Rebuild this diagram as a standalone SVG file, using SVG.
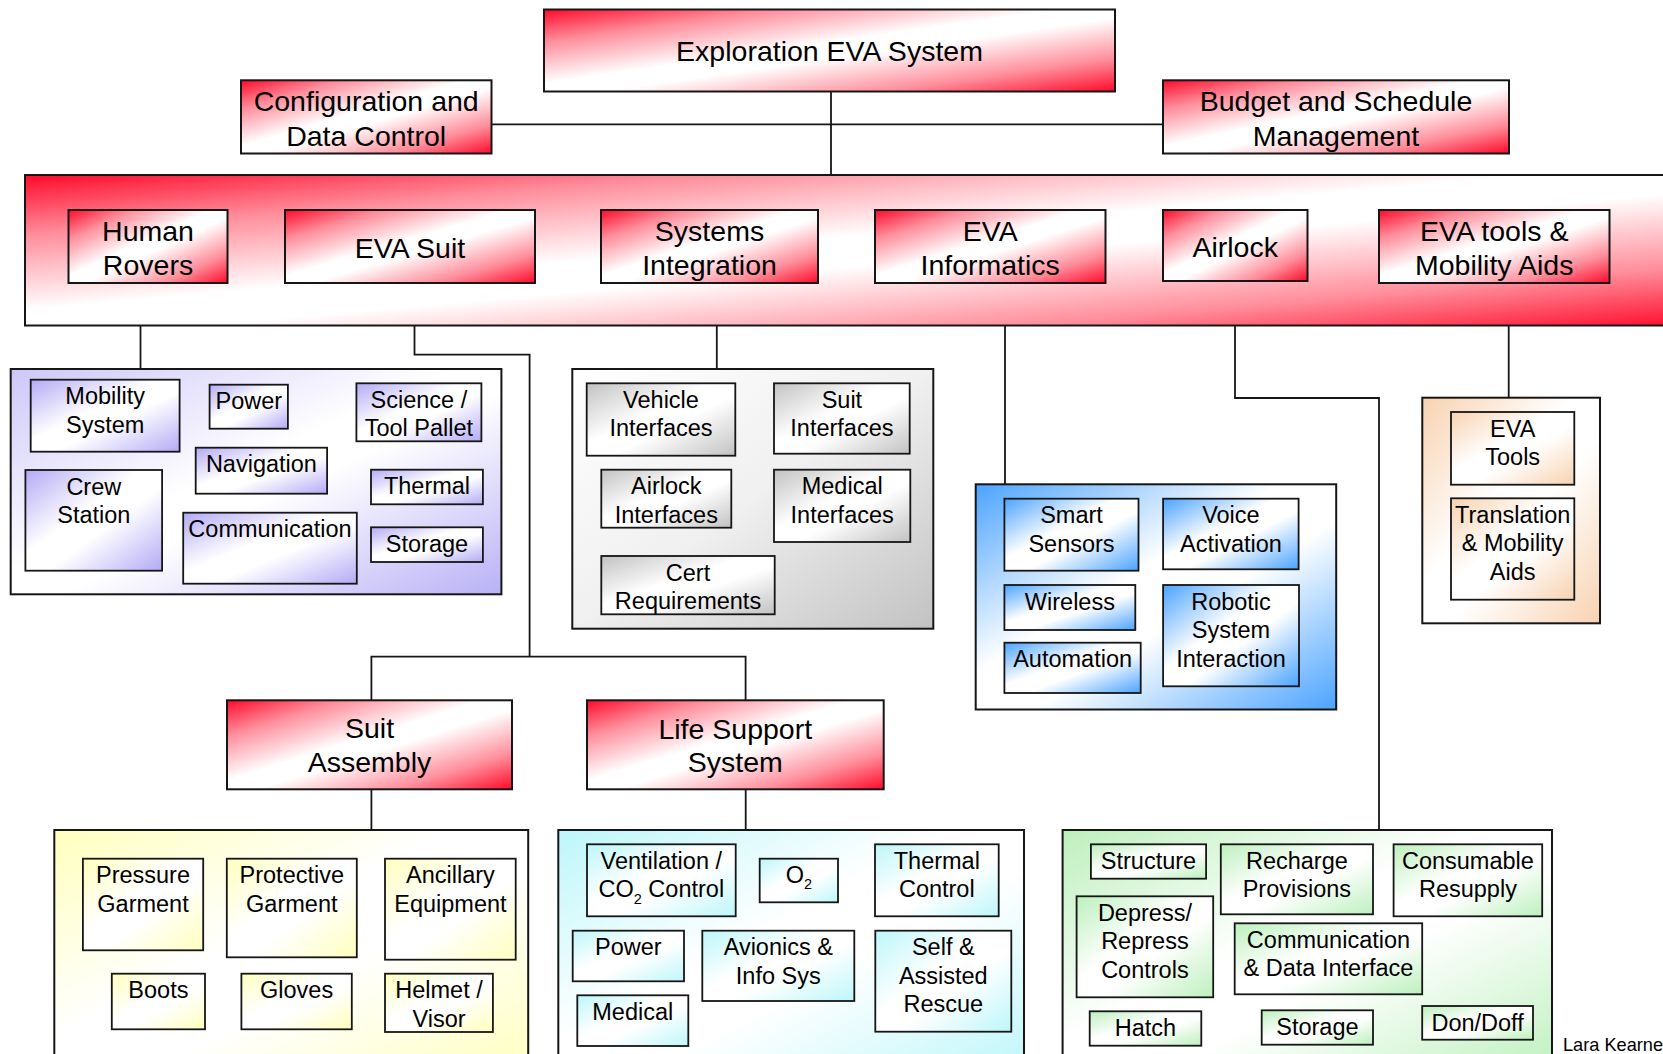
<svg xmlns="http://www.w3.org/2000/svg" width="1663" height="1054" viewBox="0 0 1663 1054">
  <defs>
    <!-- diagonal, mirrored fills: colour in two opposite corners, white through the middle -->
    <linearGradient id="gRed" x1="0" y1="0" x2="1" y2="1">
      <stop offset="0" stop-color="#ff0a2a"/>
      <stop offset="0.2" stop-color="#ff8d9b"/>
      <stop offset="0.45" stop-color="#ffffff"/>
      <stop offset="0.55" stop-color="#ffffff"/>
      <stop offset="0.8" stop-color="#ff8d9b"/>
      <stop offset="1" stop-color="#ff0a2a"/>
    </linearGradient>
    <linearGradient id="gPurple" x1="0" y1="0" x2="1" y2="1">
      <stop offset="0" stop-color="#b3aaf5"/>
      <stop offset="0.42" stop-color="#ffffff"/>
      <stop offset="0.58" stop-color="#ffffff"/>
      <stop offset="1" stop-color="#b3aaf5"/>
    </linearGradient>
    <linearGradient id="gPurpleBg" x1="0" y1="0" x2="1" y2="1">
      <stop offset="0" stop-color="#cdc7f8"/>
      <stop offset="0.45" stop-color="#ffffff"/>
      <stop offset="0.55" stop-color="#ffffff"/>
      <stop offset="1" stop-color="#b9b1f6"/>
    </linearGradient>
    <linearGradient id="gGray" x1="0" y1="0" x2="1" y2="1">
      <stop offset="0" stop-color="#c2c2c2"/>
      <stop offset="0.42" stop-color="#ffffff"/>
      <stop offset="0.58" stop-color="#ffffff"/>
      <stop offset="1" stop-color="#c2c2c2"/>
    </linearGradient>
    <linearGradient id="gGrayBg" x1="0" y1="0" x2="1" y2="1">
      <stop offset="0" stop-color="#ffffff"/>
      <stop offset="0.5" stop-color="#f0f0f0"/>
      <stop offset="1" stop-color="#c2c2c2"/>
    </linearGradient>
    <linearGradient id="gBlue" x1="0" y1="0" x2="1" y2="1">
      <stop offset="0" stop-color="#4ba3ff"/>
      <stop offset="0.42" stop-color="#ffffff"/>
      <stop offset="0.58" stop-color="#ffffff"/>
      <stop offset="1" stop-color="#4ba3ff"/>
    </linearGradient>
    <linearGradient id="gOrange" x1="0" y1="0" x2="1" y2="1">
      <stop offset="0" stop-color="#f8d2b0"/>
      <stop offset="0.42" stop-color="#ffffff"/>
      <stop offset="0.58" stop-color="#ffffff"/>
      <stop offset="1" stop-color="#f8d2b0"/>
    </linearGradient>
    <linearGradient id="gYellow" x1="0" y1="0" x2="1" y2="1">
      <stop offset="0" stop-color="#ffffbe"/>
      <stop offset="0.42" stop-color="#ffffff"/>
      <stop offset="0.58" stop-color="#ffffff"/>
      <stop offset="1" stop-color="#ffffbe"/>
    </linearGradient>
    <linearGradient id="gCyan" x1="0" y1="0" x2="1" y2="1">
      <stop offset="0" stop-color="#bdf6fa"/>
      <stop offset="0.42" stop-color="#ffffff"/>
      <stop offset="0.58" stop-color="#ffffff"/>
      <stop offset="1" stop-color="#bdf6fa"/>
    </linearGradient>
    <linearGradient id="gGreen" x1="0" y1="0" x2="1" y2="1">
      <stop offset="0" stop-color="#bdf0bd"/>
      <stop offset="0.42" stop-color="#ffffff"/>
      <stop offset="0.58" stop-color="#ffffff"/>
      <stop offset="1" stop-color="#bdf0bd"/>
    </linearGradient>
  </defs>
  <style>
    text { font-family: "Liberation Sans", Arial, sans-serif; fill: #000; text-anchor: middle; }
    .h { font-size: 28.5px; }
    .s { font-size: 23.5px; }
    .red { fill: url(#gRed); stroke: #161616; stroke-width: 2; }
    .box { stroke: #161616; stroke-width: 1.8; }
    .bg { stroke: #161616; stroke-width: 2; }
    .purple { fill: url(#gPurple); }
    .gray { fill: url(#gGray); }
    .blue { fill: url(#gBlue); }
    .orange { fill: url(#gOrange); }
    .yellow { fill: url(#gYellow); }
    .cyan { fill: url(#gCyan); }
    .green { fill: url(#gGreen); }
    .wire { fill: none; stroke: #161616; stroke-width: 1.8; }
    .credit { font-size: 18.2px; text-anchor: start; }
  </style>

  <!-- connectors -->
  <g id="connectors">
    <path class="wire" d="M831 91.5 V175"/>
    <path class="wire" d="M491.5 124.3 H1163"/>
    <path class="wire" d="M140.5 325.5 V369"/>
    <path class="wire" d="M414.5 325.5 V354.7 H529.6 V656.7"/>
    <path class="wire" d="M371.4 700.3 V656.7 H745.6 V700.3"/>
    <path class="wire" d="M716.8 325.5 V369"/>
    <path class="wire" d="M1005 325.5 V484.3"/>
    <path class="wire" d="M1235 325.5 V398 H1379 V830"/>
    <path class="wire" d="M1508.7 325.5 V397.7"/>
    <path class="wire" d="M371.4 789.3 V830"/>
    <path class="wire" d="M745.7 789.3 V830"/>
  </g>

  <!-- top level -->
  <g id="exploration-eva-system">
    <rect class="red" x="544" y="9.5" width="571" height="82"/>
    <text class="h" x="829.5" y="61">Exploration EVA System</text>
  </g>
  <g id="configuration-data-control">
    <rect class="red" x="241" y="80.3" width="250.5" height="73.2"/>
    <text class="h" x="366.2" y="111">Configuration and</text>
    <text class="h" x="366.2" y="145.7">Data Control</text>
  </g>
  <g id="budget-schedule">
    <rect class="red" x="1163" y="80.3" width="346" height="73.2"/>
    <text class="h" x="1336" y="111">Budget and Schedule</text>
    <text class="h" x="1336" y="145.7">Management</text>
  </g>

  <!-- element band -->
  <g id="element-band">
    <rect class="red" x="25" y="175" width="1680" height="150.5"/>
  </g>
  <g id="human-rovers">
    <rect class="red" x="68.5" y="210" width="159" height="73"/>
    <text class="h" x="148" y="240.7">Human</text>
    <text class="h" x="148" y="275">Rovers</text>
  </g>
  <g id="eva-suit">
    <rect class="red" x="285" y="210" width="250" height="73"/>
    <text class="h" x="410" y="257.7">EVA Suit</text>
  </g>
  <g id="systems-integration">
    <rect class="red" x="601" y="210" width="217" height="73"/>
    <text class="h" x="709.5" y="240.7">Systems</text>
    <text class="h" x="709.5" y="275">Integration</text>
  </g>
  <g id="eva-informatics">
    <rect class="red" x="875" y="210" width="230.5" height="73"/>
    <text class="h" x="990.2" y="240.7">EVA</text>
    <text class="h" x="990.2" y="275">Informatics</text>
  </g>
  <g id="airlock">
    <rect class="red" x="1163" y="210" width="144.5" height="71"/>
    <text class="h" x="1235.2" y="256.7">Airlock</text>
  </g>
  <g id="eva-tools-mobility">
    <rect class="red" x="1379" y="210" width="230.5" height="73"/>
    <text class="h" x="1494.2" y="240.7">EVA tools &amp;</text>
    <text class="h" x="1494.2" y="275">Mobility Aids</text>
  </g>

  <!-- rover subsystems -->
  <g id="rover-subsystems">
    <rect class="bg" fill="url(#gPurpleBg)" x="10.7" y="369" width="490.7" height="225.3"/>
  </g>
  <g id="mobility-system">
    <rect class="box purple" x="30.7" y="379.7" width="148.9" height="72"/>
    <text class="s" x="105.2" y="404.2">Mobility</text>
    <text class="s" x="105.2" y="432.7">System</text>
  </g>
  <g id="rover-power">
    <rect class="box purple" x="209.6" y="384.7" width="78.3" height="44"/>
    <text class="s" x="248.8" y="409.2">Power</text>
  </g>
  <g id="science-tool-pallet">
    <rect class="box purple" x="356.4" y="383.3" width="125" height="58"/>
    <text class="s" x="418.9" y="407.8">Science /</text>
    <text class="s" x="418.9" y="436.3">Tool Pallet</text>
  </g>
  <g id="navigation">
    <rect class="box purple" x="195.7" y="447.7" width="131.4" height="46"/>
    <text class="s" x="261.4" y="472.2">Navigation</text>
  </g>
  <g id="crew-station">
    <rect class="box purple" x="25.4" y="470" width="136.7" height="100.7"/>
    <text class="s" x="93.8" y="494.5">Crew</text>
    <text class="s" x="93.8" y="523">Station</text>
  </g>
  <g id="rover-thermal">
    <rect class="box purple" x="371" y="469.7" width="111.9" height="34.6"/>
    <text class="s" x="427" y="493.8">Thermal</text>
  </g>
  <g id="rover-communication">
    <rect class="box purple" x="183.2" y="512.7" width="173.6" height="71"/>
    <text class="s" x="270" y="537.2">Communication</text>
  </g>
  <g id="rover-storage">
    <rect class="box purple" x="371" y="527.3" width="111.9" height="34.7"/>
    <text class="s" x="427" y="551.8">Storage</text>
  </g>

  <!-- integration subsystems -->
  <g id="integration-subsystems">
    <rect class="bg" fill="url(#gGrayBg)" x="572.3" y="369" width="361" height="259.7"/>
  </g>
  <g id="vehicle-interfaces">
    <rect class="box gray" x="586.7" y="383.3" width="148.6" height="72.4"/>
    <text class="s" x="661" y="407.8">Vehicle</text>
    <text class="s" x="661" y="436.3">Interfaces</text>
  </g>
  <g id="suit-interfaces">
    <rect class="box gray" x="774" y="383.3" width="135.7" height="70.4"/>
    <text class="s" x="841.9" y="407.8">Suit</text>
    <text class="s" x="841.9" y="436.3">Interfaces</text>
  </g>
  <g id="airlock-interfaces">
    <rect class="box gray" x="601.3" y="469.7" width="130" height="58"/>
    <text class="s" x="666.3" y="494.2">Airlock</text>
    <text class="s" x="666.3" y="522.7">Interfaces</text>
  </g>
  <g id="medical-interfaces">
    <rect class="box gray" x="774" y="469.7" width="136.3" height="72.3"/>
    <text class="s" x="842.2" y="494.2">Medical</text>
    <text class="s" x="842.2" y="522.7">Interfaces</text>
  </g>
  <g id="cert-requirements">
    <rect class="box gray" x="601.3" y="556" width="173.4" height="58.3"/>
    <text class="s" x="688" y="580.5">Cert</text>
    <text class="s" x="688" y="609">Requirements</text>
  </g>

  <!-- informatics subsystems -->
  <g id="informatics-subsystems">
    <rect class="bg blue" x="975.7" y="484.3" width="360.5" height="225.2"/>
  </g>
  <g id="smart-sensors">
    <rect class="box blue" x="1004.4" y="498.7" width="134.1" height="72"/>
    <text class="s" x="1071.5" y="523.2">Smart</text>
    <text class="s" x="1071.5" y="551.7">Sensors</text>
  </g>
  <g id="voice-activation">
    <rect class="box blue" x="1163.1" y="498.7" width="135.5" height="70.6"/>
    <text class="s" x="1230.9" y="523.2">Voice</text>
    <text class="s" x="1230.9" y="551.7">Activation</text>
  </g>
  <g id="wireless">
    <rect class="box blue" x="1004.4" y="585" width="130.9" height="45"/>
    <text class="s" x="1069.9" y="609.5">Wireless</text>
  </g>
  <g id="robotic-system-interaction">
    <rect class="box blue" x="1163.1" y="585" width="135.9" height="101.3"/>
    <text class="s" x="1231" y="609.5">Robotic</text>
    <text class="s" x="1231" y="638">System</text>
    <text class="s" x="1231" y="666.5">Interaction</text>
  </g>
  <g id="automation">
    <rect class="box blue" x="1004.4" y="642.7" width="136.3" height="50.3"/>
    <text class="s" x="1072.6" y="667.2">Automation</text>
  </g>

  <!-- tools subsystems -->
  <g id="tools-subsystems">
    <rect class="bg orange" x="1422.3" y="397.7" width="177.7" height="225.6"/>
  </g>
  <g id="eva-tools">
    <rect class="box orange" x="1451" y="412" width="123.3" height="72.7"/>
    <text class="s" x="1512.7" y="436.5">EVA</text>
    <text class="s" x="1512.7" y="465">Tools</text>
  </g>
  <g id="translation-mobility-aids">
    <rect class="box orange" x="1451" y="498.3" width="123.3" height="101.4"/>
    <text class="s" x="1512.7" y="522.8">Translation</text>
    <text class="s" x="1512.7" y="551.3">&amp; Mobility</text>
    <text class="s" x="1512.7" y="579.8">Aids</text>
  </g>

  <!-- suit assembly branch -->
  <g id="suit-assembly">
    <rect class="red" x="227" y="700.3" width="285" height="89"/>
    <text class="h" x="369.5" y="738.3">Suit</text>
    <text class="h" x="369.5" y="771.7">Assembly</text>
  </g>
  <g id="suit-assembly-parts">
    <rect class="bg yellow" x="54.3" y="830" width="473.9" height="250"/>
  </g>
  <g id="pressure-garment">
    <rect class="box yellow" x="82.9" y="858.7" width="120.3" height="91.6"/>
    <text class="s" x="143" y="883.2">Pressure</text>
    <text class="s" x="143" y="911.7">Garment</text>
  </g>
  <g id="protective-garment">
    <rect class="box yellow" x="226.8" y="858.7" width="130" height="98.6"/>
    <text class="s" x="291.8" y="883.2">Protective</text>
    <text class="s" x="291.8" y="911.7">Garment</text>
  </g>
  <g id="ancillary-equipment">
    <rect class="box yellow" x="385" y="858.7" width="130.7" height="101"/>
    <text class="s" x="450.4" y="883.2">Ancillary</text>
    <text class="s" x="450.4" y="911.7">Equipment</text>
  </g>
  <g id="boots">
    <rect class="box yellow" x="111.8" y="973.7" width="93.2" height="55.6"/>
    <text class="s" x="158.4" y="998.2">Boots</text>
  </g>
  <g id="gloves">
    <rect class="box yellow" x="241.4" y="973.7" width="110.4" height="55.6"/>
    <text class="s" x="296.6" y="998.2">Gloves</text>
  </g>
  <g id="helmet-visor">
    <rect class="box yellow" x="385" y="973.7" width="107.9" height="58.3"/>
    <text class="s" x="439" y="998.2">Helmet /</text>
    <text class="s" x="439" y="1026.7">Visor</text>
  </g>

  <!-- life support branch -->
  <g id="life-support-system">
    <rect class="red" x="587" y="700.3" width="296.7" height="89"/>
    <text class="h" x="735.3" y="739">Life Support</text>
    <text class="h" x="735.3" y="772.3">System</text>
  </g>
  <g id="life-support-parts">
    <rect class="bg cyan" x="558.3" y="830" width="465.7" height="250"/>
  </g>
  <g id="ventilation-co2">
    <rect class="box cyan" x="587" y="844.3" width="148.7" height="72"/>
    <text class="s" x="661.3" y="868.8">Ventilation /</text>
    <text class="s" x="661.3" y="897.3">CO<tspan font-size="14.5" dy="6.6">2</tspan><tspan dy="-6.6"> Control</tspan></text>
  </g>
  <g id="oxygen">
    <rect class="box cyan" x="759.7" y="858.7" width="78.3" height="43.6"/>
    <text class="s" x="798.9" y="883.2">O<tspan font-size="14.5" dy="6">2</tspan></text>
  </g>
  <g id="thermal-control">
    <rect class="box cyan" x="875" y="844.3" width="123.7" height="72"/>
    <text class="s" x="936.8" y="868.8">Thermal</text>
    <text class="s" x="936.8" y="897.3">Control</text>
  </g>
  <g id="suit-power">
    <rect class="box cyan" x="572.7" y="930.7" width="111.3" height="50.6"/>
    <text class="s" x="628.3" y="955.2">Power</text>
  </g>
  <g id="avionics-info-sys">
    <rect class="box cyan" x="702.3" y="930.7" width="152" height="70.3"/>
    <text class="s" x="778.3" y="955.2">Avionics &amp;</text>
    <text class="s" x="778.3" y="983.7">Info Sys</text>
  </g>
  <g id="self-assisted-rescue">
    <rect class="box cyan" x="875.3" y="930.7" width="136" height="101"/>
    <text class="s" x="943.3" y="955.2">Self &amp;</text>
    <text class="s" x="943.3" y="983.7">Assisted</text>
    <text class="s" x="943.3" y="1012.2">Rescue</text>
  </g>
  <g id="medical">
    <rect class="box cyan" x="577.3" y="995.3" width="111" height="50.7"/>
    <text class="s" x="632.8" y="1019.8">Medical</text>
  </g>

  <!-- airlock subsystems -->
  <g id="airlock-subsystems">
    <rect class="bg green" x="1062.6" y="830" width="489.4" height="250"/>
  </g>
  <g id="structure">
    <rect class="box green" x="1090.9" y="844.3" width="115.2" height="34.4"/>
    <text class="s" x="1148.5" y="868.8">Structure</text>
  </g>
  <g id="recharge-provisions">
    <rect class="box green" x="1220.8" y="844.3" width="152.2" height="70"/>
    <text class="s" x="1296.9" y="868.8">Recharge</text>
    <text class="s" x="1296.9" y="897.3">Provisions</text>
  </g>
  <g id="consumable-resupply">
    <rect class="box green" x="1393.6" y="844.3" width="148.6" height="72"/>
    <text class="s" x="1467.9" y="868.8">Consumable</text>
    <text class="s" x="1467.9" y="897.3">Resupply</text>
  </g>
  <g id="depress-repress-controls">
    <rect class="box green" x="1076.6" y="896.3" width="136.6" height="101"/>
    <text class="s" x="1144.9" y="920.8">Depress/</text>
    <text class="s" x="1144.9" y="949.3">Repress</text>
    <text class="s" x="1144.9" y="977.8">Controls</text>
  </g>
  <g id="communication-data-interface">
    <rect class="box green" x="1234.7" y="923.3" width="187.5" height="71"/>
    <text class="s" x="1328.5" y="947.8">Communication</text>
    <text class="s" x="1328.5" y="976.3">&amp; Data Interface</text>
  </g>
  <g id="hatch">
    <rect class="box green" x="1089.7" y="1011.3" width="111.6" height="34.4"/>
    <text class="s" x="1145.5" y="1035.8">Hatch</text>
  </g>
  <g id="airlock-storage">
    <rect class="box green" x="1261.7" y="1010.3" width="111.3" height="34.4"/>
    <text class="s" x="1317.4" y="1034.8">Storage</text>
  </g>
  <g id="don-doff">
    <rect class="box green" x="1422.2" y="1006" width="110.8" height="33.7"/>
    <text class="s" x="1477.6" y="1030.5">Don/Doff</text>
  </g>

  <text class="credit" x="1563" y="1050.5">Lara Kearne</text>
</svg>
